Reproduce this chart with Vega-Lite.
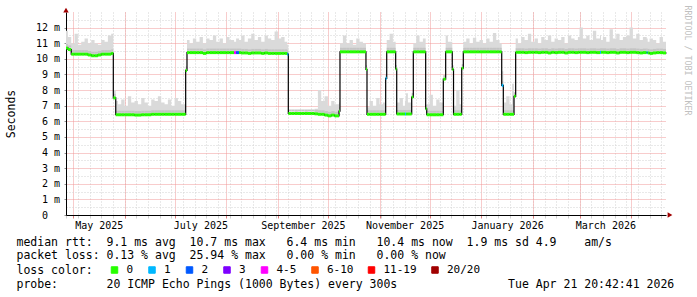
{
"$schema": "https://vega.github.io/schema/vega-lite/v6.json",
"width": 600, "height": 203,
"autosize": {"type": "none"},
"padding": {"left": 66, "top": 12, "right": 31, "bottom": 82},
"background": "#ffffff",
"config": {"view": {"stroke": null}},
"data": {"format": {"parse": {"t": "date"}}, "values": [
{"t":"2025-04-26T20:42Z","m":10.7,"h":11.8,"l":"0"},
{"t":"2025-04-28","m":10.6,"h":11.4,"l":"0"},
{"t":"2025-04-30","m":10.3,"h":11.0,"l":"0"},
{"t":"2025-05-02","m":10.3,"h":11.6,"l":"0"},
{"t":"2025-05-04","m":10.3,"h":10.9,"l":"0"},
{"t":"2025-05-06","m":10.3,"h":11.1,"l":"0"},
{"t":"2025-05-08","m":10.3,"h":11.3,"l":"0"},
{"t":"2025-05-10","m":10.25,"h":11.0,"l":"0"},
{"t":"2025-05-12","m":10.2,"h":11.2,"l":"0"},
{"t":"2025-05-14","m":10.2,"h":11.0,"l":"0"},
{"t":"2025-05-16","m":10.25,"h":10.9,"l":"0"},
{"t":"2025-05-18","m":10.3,"h":11.2,"l":"0"},
{"t":"2025-05-20","m":10.3,"h":11.1,"l":"0"},
{"t":"2025-05-22","m":10.3,"h":11.5,"l":"0"},
{"t":"2025-05-24","m":10.35,"h":11.6,"l":"0"},
{"t":"2025-05-25T06:00Z","m":7.5,"h":8.0,"l":"0"},
{"t":"2025-05-26T17:00Z","m":6.42,"h":7.3,"l":"0"},
{"t":"2025-05-28","m":6.42,"h":7.1,"l":"0"},
{"t":"2025-05-30","m":6.42,"h":7.4,"l":"0"},
{"t":"2025-06-01","m":6.42,"h":7.0,"l":"0"},
{"t":"2025-06-03","m":6.42,"h":7.6,"l":"0"},
{"t":"2025-06-05","m":6.42,"h":7.2,"l":"0"},
{"t":"2025-06-07","m":6.4,"h":7.3,"l":"0"},
{"t":"2025-06-09","m":6.4,"h":7.1,"l":"0"},
{"t":"2025-06-11","m":6.42,"h":7.5,"l":"0"},
{"t":"2025-06-13","m":6.42,"h":7.2,"l":"0"},
{"t":"2025-06-15","m":6.42,"h":7.0,"l":"0"},
{"t":"2025-06-17","m":6.45,"h":7.4,"l":"0"},
{"t":"2025-06-19","m":6.45,"h":7.3,"l":"0"},
{"t":"2025-06-21","m":6.45,"h":7.6,"l":"0"},
{"t":"2025-06-23","m":6.45,"h":7.2,"l":"0"},
{"t":"2025-06-25","m":6.45,"h":7.1,"l":"0"},
{"t":"2025-06-27","m":6.45,"h":7.4,"l":"0"},
{"t":"2025-06-29","m":6.45,"h":7.0,"l":"0"},
{"t":"2025-07-01","m":6.45,"h":7.5,"l":"0"},
{"t":"2025-07-03","m":6.45,"h":7.3,"l":"0"},
{"t":"2025-07-05","m":6.45,"h":7.1,"l":"0"},
{"t":"2025-07-07T16:00Z","m":9.26,"h":9.4,"l":"0"},
{"t":"2025-07-08T11:00Z","m":10.4,"h":11.2,"l":"0"},
{"t":"2025-07-10","m":10.4,"h":11.0,"l":"0"},
{"t":"2025-07-12","m":10.4,"h":11.3,"l":"0"},
{"t":"2025-07-14","m":10.4,"h":11.1,"l":"0"},
{"t":"2025-07-16","m":10.4,"h":11.4,"l":"0"},
{"t":"2025-07-18","m":10.35,"h":11.0,"l":"0"},
{"t":"2025-07-20","m":10.4,"h":11.3,"l":"0"},
{"t":"2025-07-22","m":10.4,"h":11.2,"l":"0"},
{"t":"2025-07-24","m":10.4,"h":11.5,"l":"0"},
{"t":"2025-07-26","m":10.4,"h":11.1,"l":"0"},
{"t":"2025-07-28","m":10.4,"h":11.3,"l":"0"},
{"t":"2025-07-30","m":10.4,"h":11.0,"l":"0"},
{"t":"2025-08-01","m":10.4,"h":11.4,"l":"0"},
{"t":"2025-08-03","m":10.4,"h":11.2,"l":"0"},
{"t":"2025-08-05T17:00Z","m":10.4,"h":11.1,"l":"4-5"},
{"t":"2025-08-06T22:00Z","m":10.4,"h":11.3,"l":"2"},
{"t":"2025-08-08T17:00Z","m":10.4,"h":11.2,"l":"0"},
{"t":"2025-08-10","m":10.38,"h":11.5,"l":"0"},
{"t":"2025-08-12","m":10.38,"h":11.1,"l":"0"},
{"t":"2025-08-14","m":10.35,"h":11.3,"l":"0"},
{"t":"2025-08-16","m":10.38,"h":11.6,"l":"0"},
{"t":"2025-08-18","m":10.38,"h":11.2,"l":"0"},
{"t":"2025-08-20","m":10.38,"h":11.4,"l":"0"},
{"t":"2025-08-22","m":10.35,"h":11.1,"l":"0"},
{"t":"2025-08-24","m":10.38,"h":11.5,"l":"0"},
{"t":"2025-08-26","m":10.35,"h":11.3,"l":"0"},
{"t":"2025-08-28","m":10.35,"h":11.2,"l":"0"},
{"t":"2025-08-30","m":10.35,"h":11.75,"l":"0"},
{"t":"2025-09-01","m":10.35,"h":11.3,"l":"0"},
{"t":"2025-09-03","m":10.35,"h":11.4,"l":"0"},
{"t":"2025-09-05","m":10.35,"h":11.1,"l":"0"},
{"t":"2025-09-06T15:00Z","m":10.3,"h":10.9,"l":"1"},
{"t":"2025-09-07T06:00Z","m":6.5,"h":6.6,"l":"0"},
{"t":"2025-09-09","m":6.5,"h":6.6,"l":"0"},
{"t":"2025-09-11","m":6.5,"h":6.65,"l":"0"},
{"t":"2025-09-13","m":6.5,"h":6.6,"l":"0"},
{"t":"2025-09-15","m":6.5,"h":6.6,"l":"0"},
{"t":"2025-09-17","m":6.5,"h":6.65,"l":"0"},
{"t":"2025-09-19","m":6.5,"h":6.6,"l":"0"},
{"t":"2025-09-21","m":6.5,"h":6.6,"l":"0"},
{"t":"2025-09-23","m":6.48,"h":6.8,"l":"0"},
{"t":"2025-09-25","m":6.45,"h":8.0,"l":"0"},
{"t":"2025-09-27","m":6.45,"h":7.3,"l":"0"},
{"t":"2025-09-29","m":6.4,"h":7.6,"l":"0"},
{"t":"2025-10-01","m":6.35,"h":7.0,"l":"0"},
{"t":"2025-10-03","m":6.4,"h":7.3,"l":"0"},
{"t":"2025-10-05","m":6.35,"h":7.1,"l":"0"},
{"t":"2025-10-07T16:00Z","m":6.65,"h":7.2,"l":"0"},
{"t":"2025-10-08T06:00Z","m":10.45,"h":11.0,"l":"0"},
{"t":"2025-10-10","m":10.45,"h":11.5,"l":"0"},
{"t":"2025-10-12","m":10.45,"h":11.0,"l":"0"},
{"t":"2025-10-14","m":10.45,"h":11.2,"l":"0"},
{"t":"2025-10-16","m":10.45,"h":10.9,"l":"0"},
{"t":"2025-10-18","m":10.45,"h":11.3,"l":"0"},
{"t":"2025-10-20","m":10.45,"h":11.1,"l":"0"},
{"t":"2025-10-22","m":10.45,"h":11.0,"l":"0"},
{"t":"2025-10-23T20:00Z","m":9.33,"h":9.5,"l":"0"},
{"t":"2025-10-24T11:00Z","m":6.45,"h":6.9,"l":"0"},
{"t":"2025-10-26","m":6.45,"h":7.3,"l":"0"},
{"t":"2025-10-28","m":6.45,"h":7.0,"l":"0"},
{"t":"2025-10-30","m":6.45,"h":7.5,"l":"0"},
{"t":"2025-11-01","m":6.45,"h":7.1,"l":"0"},
{"t":"2025-11-03","m":6.45,"h":7.2,"l":"0"},
{"t":"2025-11-04T16:00Z","m":8.75,"h":8.9,"l":"1"},
{"t":"2025-11-05T07:00Z","m":10.45,"h":11.2,"l":"0"},
{"t":"2025-11-07","m":10.45,"h":11.6,"l":"0"},
{"t":"2025-11-09","m":10.45,"h":11.1,"l":"0"},
{"t":"2025-11-10T16:00Z","m":9.35,"h":9.5,"l":"0"},
{"t":"2025-11-11T07:00Z","m":6.47,"h":7.2,"l":"0"},
{"t":"2025-11-13","m":6.47,"h":7.5,"l":"0"},
{"t":"2025-11-15","m":6.47,"h":7.0,"l":"0"},
{"t":"2025-11-16T06:00Z","m":6.47,"h":7.3,"l":"1"},
{"t":"2025-11-16T21:00Z","m":6.47,"h":7.8,"l":"0"},
{"t":"2025-11-18","m":6.47,"h":7.2,"l":"0"},
{"t":"2025-11-20T07:00Z","m":7.55,"h":7.7,"l":"0"},
{"t":"2025-11-21T06:00Z","m":10.45,"h":11.0,"l":"0"},
{"t":"2025-11-23","m":10.45,"h":11.5,"l":"0"},
{"t":"2025-11-25","m":10.45,"h":11.1,"l":"0"},
{"t":"2025-11-27","m":10.45,"h":11.3,"l":"0"},
{"t":"2025-11-28T16:00Z","m":6.8,"h":6.9,"l":"0"},
{"t":"2025-11-29T07:00Z","m":6.42,"h":7.1,"l":"0"},
{"t":"2025-12-01","m":6.42,"h":7.7,"l":"0"},
{"t":"2025-12-03","m":6.42,"h":7.0,"l":"0"},
{"t":"2025-12-05","m":6.42,"h":7.4,"l":"0"},
{"t":"2025-12-07","m":6.42,"h":7.2,"l":"0"},
{"t":"2025-12-09T06:00Z","m":8.7,"h":8.8,"l":"0"},
{"t":"2025-12-10T16:00Z","m":10.45,"h":11.5,"l":"0"},
{"t":"2025-12-12","m":10.45,"h":11.1,"l":"0"},
{"t":"2025-12-14T15:00Z","m":9.33,"h":9.5,"l":"0"},
{"t":"2025-12-15T09:00Z","m":6.45,"h":7.0,"l":"0"},
{"t":"2025-12-17","m":6.45,"h":8.0,"l":"0"},
{"t":"2025-12-19","m":6.45,"h":7.1,"l":"0"},
{"t":"2025-12-20T07:00Z","m":9.4,"h":9.5,"l":"0"},
{"t":"2025-12-21T06:00Z","m":10.45,"h":11.1,"l":"0"},
{"t":"2025-12-23","m":10.45,"h":11.3,"l":"0"},
{"t":"2025-12-25","m":10.45,"h":11.0,"l":"0"},
{"t":"2025-12-27","m":10.45,"h":11.35,"l":"0"},
{"t":"2025-12-29","m":10.45,"h":11.1,"l":"0"},
{"t":"2025-12-31","m":10.45,"h":11.2,"l":"0"},
{"t":"2026-01-02","m":10.45,"h":11.0,"l":"0"},
{"t":"2026-01-04","m":10.45,"h":11.3,"l":"0"},
{"t":"2026-01-06","m":10.45,"h":11.1,"l":"0"},
{"t":"2026-01-08","m":10.45,"h":11.65,"l":"0"},
{"t":"2026-01-10","m":10.45,"h":11.2,"l":"0"},
{"t":"2026-01-12","m":10.45,"h":11.0,"l":"0"},
{"t":"2026-01-13T07:00Z","m":8.3,"h":9.2,"l":"1"},
{"t":"2026-01-14T06:00Z","m":6.45,"h":7.2,"l":"0"},
{"t":"2026-01-16","m":6.45,"h":7.6,"l":"0"},
{"t":"2026-01-18","m":6.45,"h":7.1,"l":"0"},
{"t":"2026-01-19T12:00Z","m":6.45,"h":8.4,"l":"0"},
{"t":"2026-01-20T16:00Z","m":7.6,"h":7.8,"l":"0"},
{"t":"2026-01-21T16:00Z","m":10.42,"h":11.3,"l":"0"},
{"t":"2026-01-23","m":10.42,"h":11.0,"l":"0"},
{"t":"2026-01-25","m":10.42,"h":11.4,"l":"0"},
{"t":"2026-01-27","m":10.4,"h":11.2,"l":"0"},
{"t":"2026-01-29","m":10.42,"h":11.6,"l":"0"},
{"t":"2026-01-31","m":10.42,"h":11.1,"l":"0"},
{"t":"2026-02-02","m":10.42,"h":11.3,"l":"0"},
{"t":"2026-02-04","m":10.4,"h":11.0,"l":"0"},
{"t":"2026-02-06","m":10.42,"h":11.4,"l":"0"},
{"t":"2026-02-08","m":10.42,"h":11.2,"l":"0"},
{"t":"2026-02-10","m":10.38,"h":11.5,"l":"0"},
{"t":"2026-02-12","m":10.42,"h":11.1,"l":"0"},
{"t":"2026-02-14","m":10.4,"h":11.3,"l":"0"},
{"t":"2026-02-16","m":10.42,"h":11.2,"l":"0"},
{"t":"2026-02-18","m":10.42,"h":11.4,"l":"0"},
{"t":"2026-02-20","m":10.38,"h":11.0,"l":"0"},
{"t":"2026-02-22","m":10.42,"h":11.5,"l":"0"},
{"t":"2026-02-24","m":10.42,"h":11.3,"l":"0"},
{"t":"2026-02-26","m":10.4,"h":11.2,"l":"0"},
{"t":"2026-02-28","m":10.42,"h":11.4,"l":"0"},
{"t":"2026-03-01","m":10.42,"h":12.0,"l":"0"},
{"t":"2026-03-03","m":10.42,"h":11.3,"l":"0"},
{"t":"2026-03-05","m":10.4,"h":11.5,"l":"0"},
{"t":"2026-03-07","m":10.42,"h":11.2,"l":"0"},
{"t":"2026-03-09","m":10.42,"h":11.8,"l":"0"},
{"t":"2026-03-11","m":10.4,"h":11.3,"l":"0"},
{"t":"2026-03-13T06:00Z","m":10.42,"h":11.5,"l":"1"},
{"t":"2026-03-13T21:00Z","m":10.42,"h":11.2,"l":"0"},
{"t":"2026-03-15","m":10.42,"h":11.4,"l":"0"},
{"t":"2026-03-17","m":10.4,"h":11.1,"l":"0"},
{"t":"2026-03-19","m":10.42,"h":11.9,"l":"0"},
{"t":"2026-03-21","m":10.42,"h":11.3,"l":"0"},
{"t":"2026-03-23","m":10.38,"h":11.6,"l":"0"},
{"t":"2026-03-25","m":10.42,"h":11.2,"l":"0"},
{"t":"2026-03-27","m":10.42,"h":11.4,"l":"0"},
{"t":"2026-03-29","m":10.4,"h":11.5,"l":"0"},
{"t":"2026-03-31","m":10.42,"h":12.0,"l":"0"},
{"t":"2026-04-02","m":10.42,"h":11.3,"l":"0"},
{"t":"2026-04-04","m":10.4,"h":11.6,"l":"0"},
{"t":"2026-04-06","m":10.38,"h":11.2,"l":"0"},
{"t":"2026-04-08","m":10.4,"h":11.4,"l":"0"},
{"t":"2026-04-10T07:00Z","m":10.4,"h":11.3,"l":"1"},
{"t":"2026-04-10T21:00Z","m":10.38,"h":11.1,"l":"0"},
{"t":"2026-04-12","m":10.35,"h":11.3,"l":"0"},
{"t":"2026-04-14","m":10.38,"h":11.2,"l":"0"},
{"t":"2026-04-16","m":10.4,"h":11.0,"l":"0"},
{"t":"2026-04-18","m":10.4,"h":11.4,"l":"0"},
{"t":"2026-04-20","m":10.38,"h":11.1,"l":"0"},
{"t":"2026-04-21T20:42Z","m":10.4,"h":11.1,"l":"0"}
]},
"layer": [
{
"mark": {"type": "area", "interpolate": "step-after", "color": "#dadada"},
"encoding": {
"x": {"field": "t", "type": "temporal",
"scale": {"type": "utc", "domain": [{"year": 2025, "month": 4, "date": 26, "hours": 20, "minutes": 42, "utc": true}, {"year": 2026, "month": 4, "date": 21, "hours": 20, "minutes": 42, "utc": true}]},
"axis": {"orient": "bottom", "labels": false, "domain": false, "ticks": true, "tickSize": 3, "tickColor": "#d0d0d0", "grid": true, "gridColor": "#d2d2d2", "gridDash": [1, 2], "tickCount": {"interval": "week", "step": 1}, "zindex": 0,
"title": "loss\u00a0color:", "titleFont": "DejaVu Sans Mono", "titleFontSize": 11.5, "titleFontWeight": "normal", "titleColor": "#000000", "titleX": -50, "titleY": 58.3, "titleAlign": "left", "titleBaseline": "alphabetic", "titleAngle": 0}},
"y": {"field": "h", "type": "quantitative", "scale": {"domain": [0, 13], "nice": false},
"axis": {"orient": "left", "title": null, "labels": false, "domain": false, "ticks": false, "grid": true, "gridColor": "#d2d2d2", "gridDash": [1, 2], "values": [0.5, 1.5, 2.5, 3.5, 4.5, 5.5, 6.5, 7.5, 8.5, 9.5, 10.5, 11.5, 12.5], "zindex": 0}},
"y2": {"field": "m"}
}
},
{
"transform": [{"window": [{"op": "lead", "field": "t", "as": "t2"}], "sort": [{"field": "t", "order": "ascending"}]}, {"filter": "datum.t2 != null"}],
"mark": {"type": "rule", "color": "#c4c4c4", "strokeWidth": 2, "yOffset": -3},
"encoding": {
"x": {"field": "t", "type": "temporal", "axis": null},
"x2": {"field": "t2"},
"y": {"field": "m", "type": "quantitative", "axis": null}
}
},
{
"mark": {"type": "line", "interpolate": "step-after", "color": "#000000", "strokeWidth": 1.2},
"encoding": {
"x": {"field": "t", "type": "temporal",
"axis": {"orient": "bottom", "labels": false, "domain": false, "ticks": true, "tickSize": 3, "tickColor": "#e08080", "grid": true, "gridColor": "#f09898", "gridDash": [1, 1], "tickCount": {"interval": "month", "step": 1}, "zindex": 0,
"title": "probe:\u00a0\u00a0\u00a0\u00a0\u00a0\u00a0\u00a020\u00a0ICMP\u00a0Echo\u00a0Pings\u00a0(1000\u00a0Bytes)\u00a0every\u00a0300s\u00a0\u00a0\u00a0\u00a0\u00a0\u00a0\u00a0\u00a0\u00a0\u00a0\u00a0\u00a0\u00a0\u00a0\u00a0\u00a0Tue\u00a0Apr\u00a021\u00a020:42:41\u00a02026", "titleFont": "DejaVu Sans Mono", "titleFontSize": 11.5, "titleFontWeight": "normal", "titleColor": "#000000", "titleX": -50, "titleY": 72.1, "titleAlign": "left", "titleBaseline": "alphabetic", "titleAngle": 0}},
"y": {"field": "m", "type": "quantitative",
"axis": {"orient": "left", "values": [0, 1, 2, 3, 4, 5, 6, 7, 8, 9, 10, 11, 12], "grid": true, "gridColor": "#f09898", "gridDash": [1, 1], "domain": true, "domainColor": "#000000", "ticks": true, "tickSize": 2, "tickColor": "#909090", "labelExpr": "datum.value == 0 ? '0' : datum.value + '\u00a0m'", "labelFont": "DejaVu Sans Mono", "labelFontSize": 10, "labelColor": "#000000", "labelPadding": {"condition": {"test": "datum.value == 0", "value": 16.5}, "value": 4.5}, "title": "Seconds", "titleFont": "DejaVu Sans Mono", "titleFontSize": 11.5, "titleFontWeight": "normal", "titleColor": "#000000", "titleAngle": 270, "titleX": -55, "titleY": 101.5, "titleAlign": "center", "titleBaseline": "middle", "zindex": 0}}
}
},
{
"transform": [{"window": [{"op": "lead", "field": "t", "as": "t2"}], "sort": [{"field": "t", "order": "ascending"}]}, {"filter": "datum.t2 != null"}],
"mark": {"type": "rule", "strokeWidth": 3, "strokeCap": "butt"},
"encoding": {
"x": {"field": "t", "type": "temporal",
"axis": {"orient": "bottom", "values": [{"year": 2025, "month": 5, "date": 16, "hours": 12, "utc": true}, {"year": 2025, "month": 7, "date": 16, "hours": 12, "utc": true}, {"year": 2025, "month": 9, "date": 16, "utc": true}, {"year": 2025, "month": 11, "date": 16, "utc": true}, {"year": 2026, "month": 1, "date": 16, "hours": 12, "utc": true}, {"year": 2026, "month": 3, "date": 16, "hours": 12, "utc": true}],
"format": "%B %Y", "labelFont": "DejaVu Sans Mono", "labelFontSize": 10, "labelColor": "#000000", "labelPadding": 5, "labelFlush": false, "labelOverlap": false, "labelBound": false, "ticks": false, "grid": false, "domain": true, "domainColor": "#000000",
"title": ["median\u00a0rtt:\u00a0\u00a09.1\u00a0ms\u00a0avg\u00a0\u00a010.7\u00a0ms\u00a0max\u00a0\u00a0\u00a06.4\u00a0ms\u00a0min\u00a0\u00a0\u00a010.4\u00a0ms\u00a0now\u00a0\u00a01.9\u00a0ms\u00a0sd\u00a04.9\u00a0\u00a0\u00a0\u00a0am/s", "packet\u00a0loss:\u00a00.13\u00a0%\u00a0avg\u00a0\u00a025.94\u00a0%\u00a0max\u00a0\u00a0\u00a00.00\u00a0%\u00a0min\u00a0\u00a0\u00a00.00\u00a0%\u00a0now"],
"titleFont": "DejaVu Sans Mono", "titleFontSize": 11.5, "titleFontWeight": "normal", "titleColor": "#000000", "titleX": -50, "titleY": 30, "titleAlign": "left", "titleBaseline": "alphabetic", "titleLineHeight": 13.7, "titleAngle": 0, "zindex": 1}},
"x2": {"field": "t2"},
"y": {"field": "m", "type": "quantitative",
"axis": {"orient": "right", "labels": false, "ticks": false, "grid": false, "domain": false, "title": "RRDTOOL / TOBI OETIKER", "titleFont": "DejaVu Sans Mono", "titleFontSize": 8.3, "titleFontWeight": "normal", "titleColor": "#c0c0c0", "titleAngle": 90, "titleX": 20, "titleY": -7, "titleAlign": "left", "titleBaseline": "middle"}},
"color": {"field": "l", "type": "nominal",
"scale": {"domain": ["0", "1", "2", "3", "4-5", "6-10", "11-19", "20/20"], "range": ["#26ff00", "#00b8ff", "#0059ff", "#7e00ff", "#ff00ff", "#ff5500", "#ff0000", "#a10000"]},
"legend": {"orient": "none", "legendX": 43, "legendY": 252.5, "direction": "horizontal", "columns": 8, "gridAlign": "none", "title": null, "symbolType": "square", "symbolSize": 42, "symbolStrokeWidth": 1, "symbolStrokeColor": "#000000", "labelFont": "DejaVu Sans Mono", "labelFontSize": 11, "labelColor": "#000000", "labelOffset": 6.5, "columnPadding": 12.5, "padding": 0,
"encode": {"symbols": {"update": {"fill": {"scale": "color", "field": "value"}, "stroke": {"value": "#000000"}, "strokeWidth": {"value": 1}, "opacity": {"value": 1}, "fillOpacity": {"value": 1}}}}}}
}
},
{
"data": {"values": [{}]},
"mark": {"type": "point", "shape": "triangle-up", "filled": true, "size": 30, "color": "#a00000", "opacity": 1},
"encoding": {
"x": {"datum": {"year": 2025, "month": 4, "date": 26, "hours": 20, "minutes": 42, "utc": true}, "type": "temporal", "axis": null},
"y": {"datum": 13.12, "type": "quantitative", "axis": null}
}
},
{
"data": {"values": [{}]},
"mark": {"type": "point", "shape": "triangle-right", "filled": true, "size": 30, "color": "#a00000", "opacity": 1},
"encoding": {
"x": {"datum": {"year": 2026, "month": 4, "date": 24, "hours": 6, "utc": true}, "type": "temporal", "axis": null},
"y": {"datum": 0, "type": "quantitative", "axis": null}
}
}
],
"resolve": {"axis": {"x": "independent", "y": "independent"}}
}
